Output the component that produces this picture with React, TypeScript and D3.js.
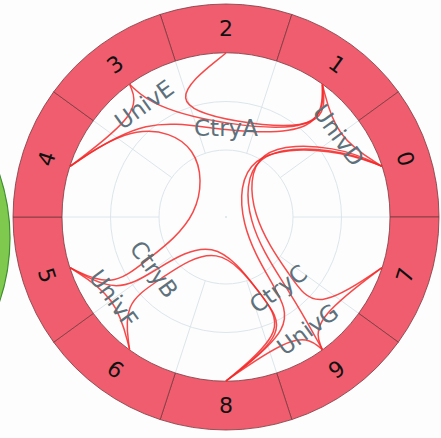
import React, { useEffect, useRef } from 'react';
import * as d3 from 'd3';

// ring segments, clockwise from 12 o'clock
const segmentLabels = ['2', '1', '0', '7', '9', '8', '6', '5', '4', '3'];

// hierarchy: university -> leaves, university -> country
const univNames = ['UnivD', 'UnivE', 'UnivF', 'UnivG'];
const univMembers = [['1', '0'], ['2', '3', '4'], ['6', '5'], ['7', '9', '8']];
const univCountry = ['CtryA', 'CtryA', 'CtryB', 'CtryC'];
const countryNames = ['CtryA', 'CtryB', 'CtryC'];

// links between leaves
const linkSource = ['2', '3', '4', '3', '1', '4', '5', '5', '6', '0', '0', '0', '7', '9'];
const linkTarget = ['1', '1', '1', '4', '0', '5', '6', '8', '8', '8', '9', '7', '9', '8'];

const radialTicks = [0, 1, 2];

const App = () => {
  const svgRef = useRef<SVGSVGElement>(null);

  useEffect(() => {
    const width = 441;
    const height = 438;
    const cx = 226;
    const cy = 217;
    const innerR = 164;
    const outerR = 213;
    const holeR = 67;

    const svg = d3.select(svgRef.current)
      .attr('width', width)
      .attr('height', height);
    svg.selectAll('*').remove();

    svg.append('rect').attr('width', width).attr('height', height).attr('fill', '#fdfdfd');

    // neighbouring chart peeking in at the left edge
    svg.append('circle')
      .attr('cx', -190).attr('cy', 238).attr('r', 200)
      .attr('fill', '#80c94f').attr('stroke', '#3f8f2f').attr('stroke-width', 1.2);

    const g = svg.append('g').attr('transform', `translate(${cx},${cy})`);

    const x = d3.scaleBand<string>().domain(segmentLabels).range([0, 2 * Math.PI]);
    const bw = x.bandwidth();
    const angleOf = (d: string) => x(d) as number;
    const r = d3.scaleLinear().domain([0, 2]).range([holeR, innerR]);

    // readable rotation: flip text on the lower half
    const labelRot = (a: number) => {
      let deg = ((a * 180 / Math.PI) % 360 + 360) % 360;
      if (deg > 90 && deg < 270) deg -= 180;
      return deg;
    };

    // grid
    g.selectAll('circle.grid')
      .data(radialTicks.slice(0, 2))
      .join('circle')
      .attr('class', 'grid')
      .attr('r', d => r(d))
      .attr('fill', 'none')
      .attr('stroke', '#dce6ea')
      .attr('stroke-width', 1);

    g.selectAll('line.spoke')
      .data(segmentLabels)
      .join('line')
      .attr('class', 'spoke')
      .attr('x1', d => r(0) * Math.sin(angleOf(d) + bw / 2))
      .attr('y1', d => -r(0) * Math.cos(angleOf(d) + bw / 2))
      .attr('x2', d => r(2) * Math.sin(angleOf(d) + bw / 2))
      .attr('y2', d => -r(2) * Math.cos(angleOf(d) + bw / 2))
      .attr('stroke', '#dce6ea')
      .attr('stroke-width', 1);

    g.append('circle').attr('r', 1).attr('fill', '#d5e3ea');

    // ring
    const arc = d3.arc<string>()
      .innerRadius(innerR)
      .outerRadius(outerR)
      .startAngle(d => angleOf(d) - bw / 2)
      .endAngle(d => angleOf(d) + bw / 2);

    g.selectAll('path.seg')
      .data(segmentLabels)
      .join('path')
      .attr('class', 'seg')
      .attr('d', arc)
      .attr('fill', '#ef5d6e')
      .attr('stroke', '#7a3a40')
      .attr('stroke-width', 0.8);

    g.selectAll('text.seg')
      .data(segmentLabels)
      .join('text')
      .attr('class', 'seg')
      .attr('transform', d => {
        const a = angleOf(d);
        const rr = (innerR + outerR) / 2;
        return `translate(${rr * Math.sin(a)},${-rr * Math.cos(a)}) rotate(${labelRot(a)})`;
      })
      .attr('text-anchor', 'middle')
      .attr('dominant-baseline', 'central')
      .style('font-family', 'DejaVu Sans, sans-serif')
      .style('font-size', '22px')
      .attr('fill', '#111')
      .text(d => d);

    // node positions
    const meanAngle = (leaves: string[]) => {
      const s = d3.mean(leaves, l => Math.sin(angleOf(l))) as number;
      const c = d3.mean(leaves, l => Math.cos(angleOf(l))) as number;
      return Math.atan2(s, c);
    };
    const univLabelR = 139;
    const ctryLabelR = 89;
    const univCtrlR = 132;
    const ctryCtrlR = 84;

    const leafUniv = new Map<string, number>();
    univMembers.forEach((m, i) => m.forEach(l => leafUniv.set(l, i)));
    const univAngle = univMembers.map(m => meanAngle(m));
    const ctryAngle = countryNames.map(c => meanAngle(
      univMembers.filter((_, i) => univCountry[i] === c).flat()
    ));
    const ctryIndex = (u: number) => countryNames.indexOf(univCountry[u]);

    type P = { a: number; r: number };
    const pathFor = (s: string, t: string): P[] => {
      const us = leafUniv.get(s) as number;
      const ut = leafUniv.get(t) as number;
      const pts: P[] = [{ a: angleOf(s), r: innerR }];
      if (us === ut) {
        pts.push({ a: univAngle[us], r: univCtrlR });
      } else if (ctryIndex(us) === ctryIndex(ut)) {
        pts.push({ a: univAngle[us], r: univCtrlR });
        pts.push({ a: ctryAngle[ctryIndex(us)], r: ctryCtrlR });
        pts.push({ a: univAngle[ut], r: univCtrlR });
      } else {
        pts.push({ a: univAngle[us], r: univCtrlR });
        pts.push({ a: ctryAngle[ctryIndex(us)], r: ctryCtrlR });
        pts.push({ a: 0, r: 0 });
        pts.push({ a: ctryAngle[ctryIndex(ut)], r: ctryCtrlR });
        pts.push({ a: univAngle[ut], r: univCtrlR });
      }
      pts.push({ a: angleOf(t), r: innerR });
      return pts;
    };

    const line = d3.lineRadial<P>()
      .angle(d => d.a)
      .radius(d => d.r)
      .curve(d3.curveBundle.beta(0.85));

    g.selectAll('path.link')
      .data(linkSource.map((s, i) => pathFor(s, linkTarget[i])))
      .join('path')
      .attr('class', 'link')
      .attr('d', d => line(d))
      .attr('fill', 'none')
      .attr('stroke', '#f42a2a')
      .attr('stroke-opacity', 0.85)
      .attr('stroke-width', 1.5);

    // group labels
    const labels = [
      ...univNames.map((n, i) => ({ name: n, a: univAngle[i], r: univLabelR })),
      ...countryNames.map((n, i) => ({ name: n, a: ctryAngle[i], r: ctryLabelR })),
    ];
    g.selectAll('text.grp')
      .data(labels)
      .join('text')
      .attr('class', 'grp')
      .attr('transform', d => `translate(${d.r * Math.sin(d.a)},${-d.r * Math.cos(d.a)}) rotate(${labelRot(d.a)})`)
      .attr('text-anchor', 'middle')
      .attr('dominant-baseline', 'central')
      .style('font-family', 'DejaVu Sans, sans-serif')
      .style('font-size', '23px')
      .attr('fill', '#5d717c')
      .text(d => d.name);
  }, []);

  return <svg ref={svgRef} style={{ position: 'absolute', left: 0, top: 0 }}></svg>;
};

export default App;
